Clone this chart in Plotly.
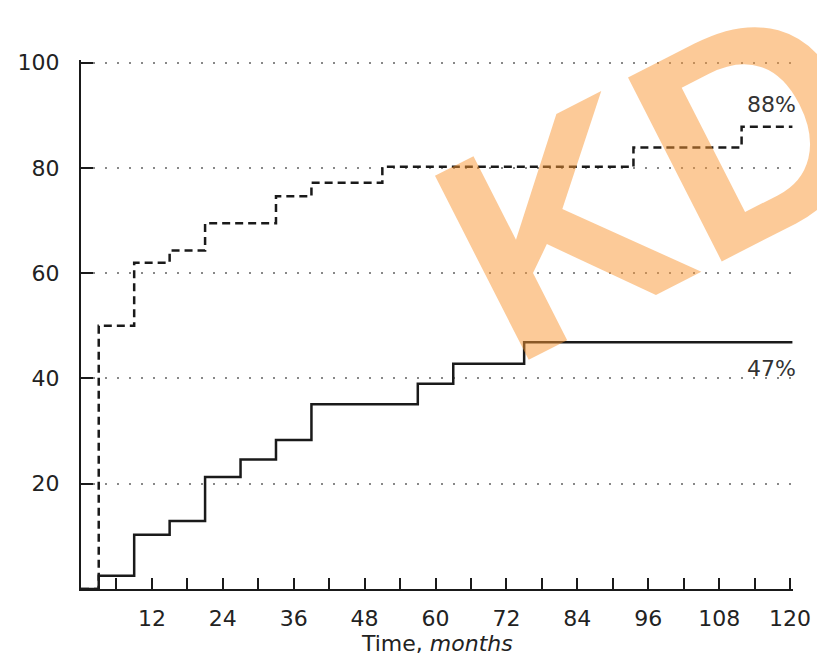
import plotly.graph_objects as go

# Data (months, cumulative %)
dashed_t = [0, 3, 9, 15, 21, 33, 39, 51, 93.5, 111.8, 120.4]
dashed_y = [0, 50, 62, 64.3, 69.5, 74.6, 77.2, 80.2, 83.9, 87.8, 87.8]

solid_t = [0, 3, 9, 15, 21, 27, 33, 39, 57, 63, 75, 120.4]
solid_y = [0, 2.5, 10.3, 12.9, 21.3, 24.6, 28.3, 35.1, 39.0, 42.8, 46.9, 46.9]

x_tickvals = list(range(6, 121, 6))
x_ticktext = [str(v) if v % 12 == 0 else "" for v in x_tickvals]
y_tickvals = [20, 40, 60, 80, 100]

end_labels = ["88%", "47%"]
end_label_x = [116.8, 116.8]
end_label_y = [92, 41.8]

FONT = "DejaVu Sans"
INK = "#1a1a1a"

fig = go.Figure()
fig.add_trace(go.Scatter(x=dashed_t, y=dashed_y, mode="lines", line_shape="hv",
                         line=dict(color=INK, width=2.5, dash="8px,5px"),
                         showlegend=False, hoverinfo="skip"))
fig.add_trace(go.Scatter(x=solid_t, y=solid_y, mode="lines", line_shape="hv",
                         line=dict(color=INK, width=2.5),
                         showlegend=False, hoverinfo="skip"))

for txt, xv, yv in zip(end_labels, end_label_x, end_label_y):
    fig.add_annotation(x=xv, y=yv, text=txt, showarrow=False,
                       font=dict(family=FONT, size=22, color="#333333"))

# x-axis title
fig.add_annotation(xref="paper", yref="paper", x=0.5, y=-0.103, xanchor="center", yanchor="middle",
                   text="Time, <i>months</i>", showarrow=False,
                   font=dict(family=FONT, size=22, color="#222222"))

# watermark
fig.add_annotation(xref="paper", yref="paper", x=0.808, y=0.777, text="<b>KD</b>",
                   xanchor="center", yanchor="middle",
                   showarrow=False, textangle=-27,
                   font=dict(family="Liberation Sans", size=300, color="rgba(250,150,50,0.5)"))

fig.update_layout(
    width=817, height=658,
    margin=dict(l=81, r=24, t=60, b=69),
    paper_bgcolor="white", plot_bgcolor="white",
    font=dict(family=FONT, size=22, color="#222222"),
    xaxis=dict(range=[0, 120.5], tickvals=x_tickvals, ticktext=x_ticktext,
               ticks="inside", ticklen=11, tickwidth=1.5, tickcolor=INK,
               showline=True, linecolor=INK, linewidth=2, automargin=False,
               showgrid=False, zeroline=False, ticklabelstandoff=9),
    yaxis=dict(range=[0, 100.5], tickvals=y_tickvals,
               ticks="inside", ticklen=12, tickwidth=1.5, tickcolor=INK,
               showline=True, linecolor=INK, linewidth=2, automargin=False,
               showgrid=True, gridcolor="#888888", gridwidth=1.5, griddash="2px,10px",
               zeroline=False, ticklabelstandoff=15),
)

fig.write_html("out.html")
